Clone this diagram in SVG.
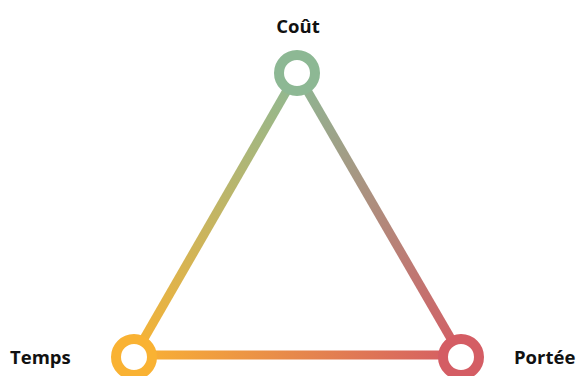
<svg xmlns="http://www.w3.org/2000/svg" width="580" height="376" viewBox="0 0 580 376">
  <style>
    .edge { fill: none; stroke-width: 9; stroke-linecap: butt; }
    .ring { fill: #ffffff; stroke-width: 10; }
    .label { font-family: "Open Sans", "Liberation Sans", sans-serif; font-weight: bold; font-size: 18.5px; fill: #111111; }
  </style>
  <defs>
    <linearGradient id="gLeft" gradientUnits="userSpaceOnUse" x1="297" y1="73" x2="134" y2="356">
      <stop offset="0" stop-color="#8db894"/>
      <stop offset="1" stop-color="#f9b233"/>
    </linearGradient>
    <linearGradient id="gRight" gradientUnits="userSpaceOnUse" x1="297" y1="73" x2="461" y2="356">
      <stop offset="0" stop-color="#8db894"/>
      <stop offset="1" stop-color="#d45d64"/>
    </linearGradient>
    <linearGradient id="gBase" gradientUnits="userSpaceOnUse" x1="134" y1="356" x2="461" y2="356">
      <stop offset="0" stop-color="#f9b233"/>
      <stop offset="1" stop-color="#d45d64"/>
    </linearGradient>
  </defs>

  <g id="connectors">
    <line class="edge" x1="297" y1="73" x2="134" y2="356" stroke="url(#gLeft)"/>
    <line class="edge" x1="297" y1="73" x2="461" y2="356" stroke="url(#gRight)"/>
    <line class="edge" x1="134" y1="355" x2="461" y2="355" stroke="url(#gBase)"/>
  </g>

  <g id="cout">
    <circle class="ring" cx="297" cy="73" r="18" stroke="#8db894"/>
    <text class="label" x="298" y="33" text-anchor="middle">Coût</text>
  </g>
  <g id="temps">
    <circle class="ring" cx="134" cy="357" r="18" stroke="#f9b233"/>
    <text class="label" x="10" y="364">Temps</text>
  </g>
  <g id="portee">
    <circle class="ring" cx="461" cy="357" r="18" stroke="#d45d64"/>
    <text class="label" x="514" y="364">Portée</text>
  </g>
</svg>
